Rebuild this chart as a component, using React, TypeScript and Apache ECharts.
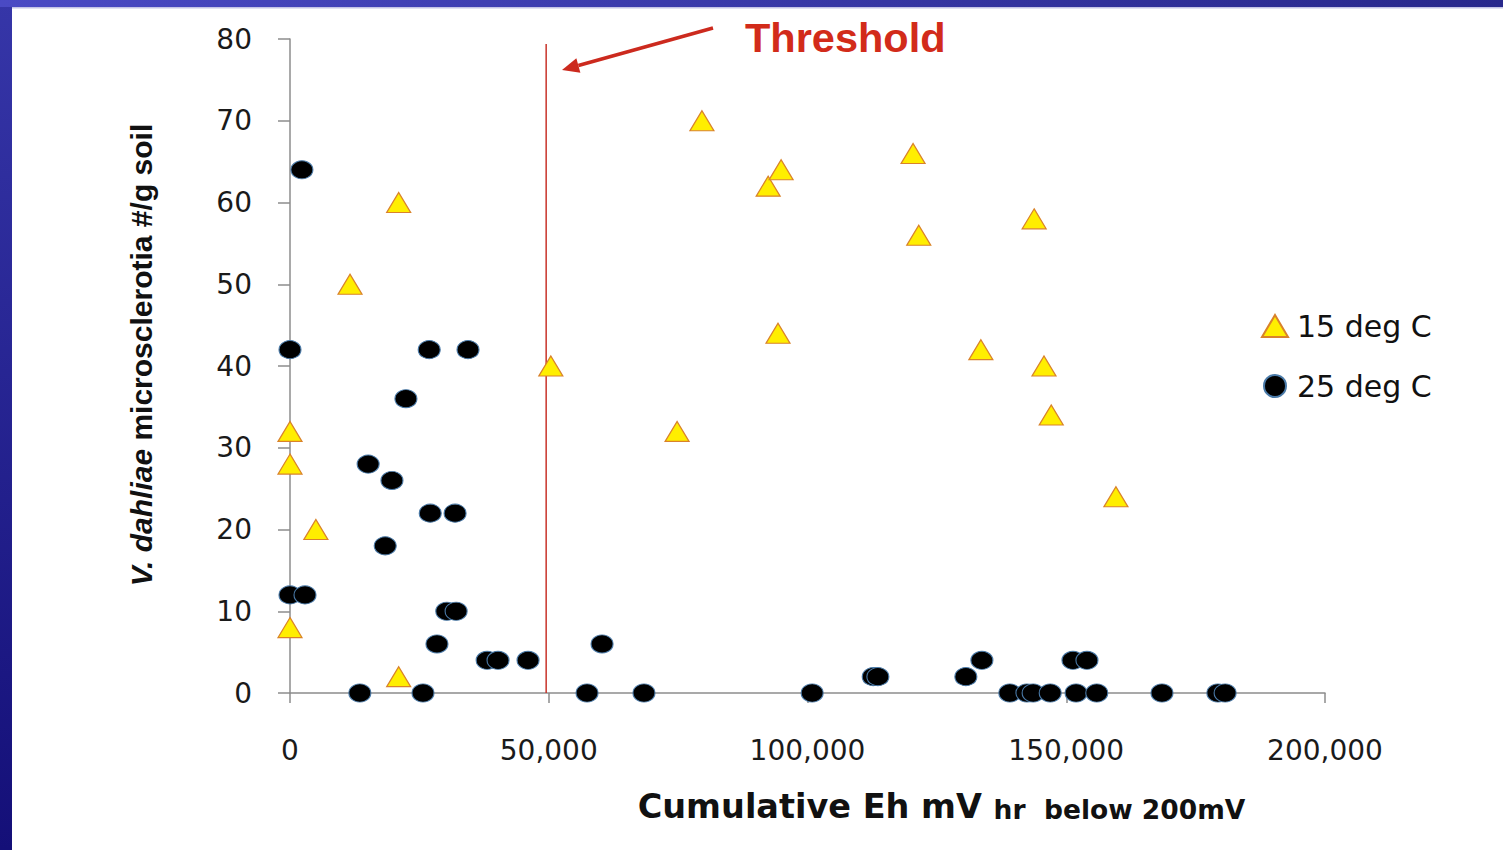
import React, { useEffect, useRef } from "react";
import * as echarts from "echarts";

// 15 deg C observations: [cumulative Eh mV·hr below 200 mV, microsclerotia per g soil]
const deg15: [number, number][] = [
  [79600, 70], [21000, 60], [11600, 50], [50400, 40], [0, 32], [0, 28],
  [5000, 20], [0, 8], [21000, 2], [74800, 32], [92400, 62], [94900, 64],
  [94300, 44], [120400, 66], [121500, 56], [143800, 58], [133500, 42],
  [145700, 40], [147100, 34], [159600, 24],
];

// 25 deg C observations
const deg25: [number, number][] = [
  [2300, 64], [0, 42], [26900, 42], [34400, 42], [22400, 36], [15100, 28],
  [19700, 26], [18400, 18], [27100, 22], [31900, 22], [0, 12], [2900, 12],
  [30300, 10], [32100, 10], [28400, 6], [38100, 4], [40200, 4], [46000, 4],
  [13500, 0], [25700, 0], [60300, 6], [57400, 0], [68400, 0], [100900, 0],
  [112700, 2], [113600, 2], [130600, 2], [133700, 4], [139100, 0],
  [142400, 0], [143600, 0], [146900, 0], [151300, 4], [154000, 4],
  [151900, 0], [155900, 0], [168500, 0], [179300, 0], [180700, 0],
];

const thresholdX = 49500;
const thresholdTop = 79.4;

const seriesNames = ["15 deg C", "25 deg C"];
const xName = "{a|Cumulative Eh mV }{b|hr  below 200mV}";
const yName = "{i|V. dahliae} microsclerotia #/g soil";
const annotation = "Threshold";

export default function App() {
  const ref = useRef<HTMLDivElement>(null);

  useEffect(() => {
    document.body.style.margin = "0";
    document.body.style.overflow = "hidden";
    const chart = echarts.init(ref.current!, null, { renderer: "svg" });

    // arrow geometry (annotation)
    const sx = 713, sy = 28, tx = 562, ty = 70;
    const dx = tx - sx, dy = ty - sy;
    const len = Math.sqrt(dx * dx + dy * dy);
    const ux = dx / len, uy = dy / len;
    const headL = 17, headW = 7.5;
    const bx = tx - ux * headL, by = ty - uy * headL;
    const px = -uy * headW, py = ux * headW;

    const axisColor = "#8c8c8c";

    chart.setOption({
      animation: false,
      backgroundColor: "#ffffff",
      grid: { left: 290, right: 178, top: 39, bottom: 157, containLabel: false },
      legend: {
        data: seriesNames,
        orient: "vertical",
        left: 1256,
        top: 306,
        itemWidth: 26,
        itemHeight: 22,
        itemGap: 30,
        textStyle: { fontSize: 30, fontFamily: "DejaVu Sans", color: "#111111", padding: [0, 0, 0, 4] },
      },
      xAxis: {
        type: "value",
        min: 0,
        max: 200000,
        interval: 50000,
        splitLine: { show: false },
        axisLine: { show: true, onZero: false, lineStyle: { color: axisColor, width: 1.5 } },
        axisTick: { show: true, length: 10, lineStyle: { color: axisColor, width: 1.5 } },
        axisLabel: { fontSize: 28, fontFamily: "DejaVu Sans", color: "#1a1a1a", margin: 43 },
        name: xName,
        nameLocation: "middle",
        nameGap: 96,
        nameTextStyle: {
          padding: [0, 0, 0, 268],
          rich: {
            a: { fontSize: 33.5, fontWeight: "bold", fontFamily: "DejaVu Sans", color: "#111111", verticalAlign: "bottom" },
            b: { fontSize: 26.5, fontWeight: "bold", fontFamily: "DejaVu Sans", color: "#111111", verticalAlign: "bottom" },
          },
        },
      },
      yAxis: {
        type: "value",
        min: 0,
        max: 80,
        interval: 10,
        splitLine: { show: false },
        axisLine: { show: true, onZero: false, lineStyle: { color: axisColor, width: 1.5 } },
        axisTick: { show: true, length: 12, lineStyle: { color: axisColor, width: 1.5 } },
        axisLabel: { fontSize: 28, fontFamily: "DejaVu Sans", color: "#1a1a1a", margin: 38 },
        name: yName,
        nameLocation: "middle",
        nameRotate: 90,
        nameGap: 134,
        nameTextStyle: {
          fontSize: 30,
          fontWeight: "bold",
          fontFamily: "Liberation Sans",
          color: "#111111",
          padding: [0, 0, 0, 22],
          rich: {
            i: { fontSize: 30, fontWeight: "bold", fontStyle: "italic", fontFamily: "Liberation Sans", color: "#111111" },
          },
        },
      },
      series: [
        {
          name: "Threshold line",
          type: "line",
          data: [[thresholdX, 0], [thresholdX, thresholdTop]],
          showSymbol: false,
          symbol: "none",
          silent: true,
          lineStyle: { color: "#c8332a", width: 1.5 },
          z: 1,
        },
        {
          name: seriesNames[0],
          type: "scatter",
          symbol: "triangle",
          symbolSize: [24, 20],
          data: deg15,
          itemStyle: { color: "#ffee00", borderColor: "#d9822b", borderWidth: 1.2, opacity: 1 },
          z: 3,
        },
        {
          name: seriesNames[1],
          type: "scatter",
          symbol: "circle",
          symbolSize: [22, 18],
          data: deg25,
          itemStyle: { color: "#000000", borderColor: "#4a7aa8", borderWidth: 1, opacity: 1 },
          z: 4,
        },
      ],
      graphic: [
        {
          type: "rect",
          z: -10,
          shape: { x: 0, y: 0, width: 12, height: 850 },
          style: {
            fill: new echarts.graphic.LinearGradient(0, 0, 0, 1, [
              { offset: 0, color: "#3636a8" },
              { offset: 1, color: "#140f78" },
            ]),
          },
        },
        {
          type: "rect",
          z: -10,
          shape: { x: 0, y: 0, width: 1503, height: 7 },
          style: {
            fill: new echarts.graphic.LinearGradient(0, 0, 1, 0, [
              { offset: 0, color: "#4a4ac4" },
              { offset: 1, color: "#28288c" },
            ]),
          },
        },
        {
          type: "rect",
          z: -10,
          shape: { x: 12, y: 7, width: 1491, height: 1.5 },
          style: { fill: "#c4c4e6" },
        },
        {
          type: "line",
          z: 10,
          shape: { x1: sx, y1: sy, x2: bx, y2: by },
          style: { stroke: "#cc2a1e", lineWidth: 3.5 },
        },
        {
          type: "polygon",
          z: 10,
          shape: { points: [[tx, ty], [bx + px, by + py], [bx - px, by - py]] },
          style: { fill: "#cc2a1e" },
        },
        {
          type: "text",
          z: 10,
          x: 745,
          y: 37,
          style: {
            text: annotation,
            fontSize: 41.5,
            fontWeight: "bold",
            fontFamily: "Liberation Sans",
            fill: "#d22b1a",
            verticalAlign: "middle",
            align: "left",
          },
        },
      ],
    });

    return () => chart.dispose();
  }, []);

  return <div ref={ref} style={{ width: 1503, height: 850 }} />;
}
